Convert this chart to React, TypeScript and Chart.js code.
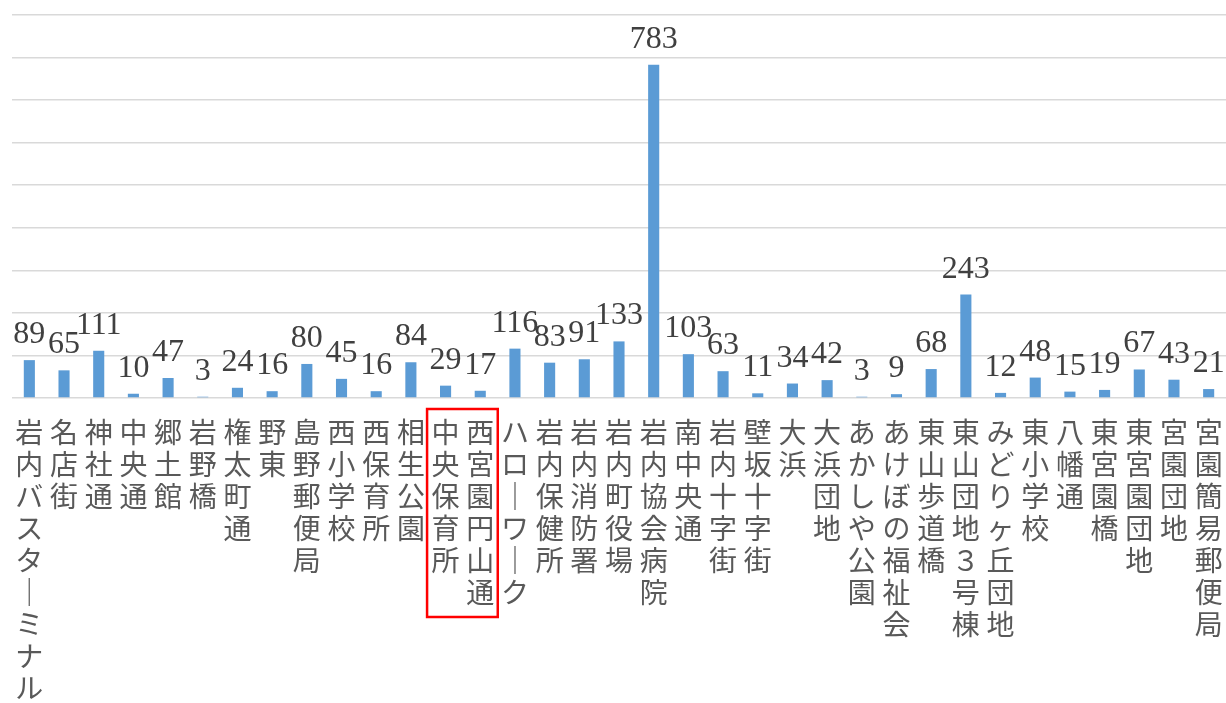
import React, { useEffect, useRef } from "react";
import { Chart, registerables } from "chart.js";

Chart.register(...registerables);

const categories: string[] = [
  "岩内バスターミナル", "名店街", "神社通", "中央通", "郷土館", "岩野橋", "権太町通", "野東",
  "島野郵便局", "西小学校", "西保育所", "相生公園", "中央保育所", "西宮園円山通", "ハローワーク",
  "岩内保健所", "岩内消防署", "岩内町役場", "岩内協会病院", "南中央通", "岩内十字街", "壁坂十字街",
  "大浜", "大浜団地", "あかしや公園", "あけぼの福祉会", "東山歩道橋", "東山団地３号棟",
  "みどりヶ丘団地", "東小学校", "八幡通", "東宮園橋", "東宮園団地", "宮園団地", "宮園簡易郵便局",
];

const values: number[] = [
  89, 65, 111, 10, 47, 3, 24, 16, 80, 45, 16, 84, 29, 17, 116, 83, 91, 133, 783, 103, 63, 11,
  34, 42, 3, 9, 68, 243, 12, 48, 15, 19, 67, 43, 21,
];

const highlighted: number[] = [12, 13];

const yMax = 900;
const yStep = 100;

// vertical typesetting: each character on its own line, long vowel mark drawn upright
const toVertical = (s: string): string[] =>
  Array.from(s).map((c) => (c === "ー" ? "｜" : c));

const valueLabelPlugin = {
  id: "valueLabels",
  afterDatasetsDraw(chart: any) {
    const ctx = chart.ctx;
    const meta = chart.getDatasetMeta(0);
    ctx.save();
    ctx.font = '32px "Liberation Serif"';
    ctx.fillStyle = "#404040";
    ctx.textAlign = "center";
    ctx.textBaseline = "alphabetic";
    meta.data.forEach((bar: any, i: number) => {
      ctx.fillText(String(values[i]), bar.x, bar.y - 17);
    });
    ctx.restore();
  },
};

const highlightBoxPlugin = {
  id: "highlightBox",
  afterDraw(chart: any) {
    const ctx = chart.ctx;
    const xs = chart.scales.x;
    const left = xs.getPixelForValue(highlighted[0]) - 18.5;
    const right = xs.getPixelForValue(highlighted[highlighted.length - 1]) + 17.5;
    const top = chart.chartArea.bottom + 11;
    const bottom = chart.chartArea.bottom + 219;
    ctx.save();
    ctx.strokeStyle = "#FF0000";
    ctx.lineWidth = 2.5;
    ctx.strokeRect(left, top, right - left, bottom - top);
    ctx.restore();
  },
};

export default function App() {
  const canvasRef = useRef<HTMLCanvasElement | null>(null);

  useEffect(() => {
    if (!canvasRef.current) return;
    const chart = new Chart(canvasRef.current, {
      type: "bar",
      data: {
        labels: categories.map(toVertical),
        datasets: [
          {
            data: values,
            backgroundColor: "#5B9BD5",
            borderWidth: 0,
            categoryPercentage: 1,
            barPercentage: 0.32,
          },
        ],
      },
      options: {
        animation: false,
        responsive: true,
        maintainAspectRatio: false,
        layout: { padding: { top: 15, left: 12, right: 0, bottom: 0 } },
        plugins: {
          legend: { display: false },
          tooltip: { enabled: false },
          title: { display: false },
        },
        scales: {
          x: {
            grid: {
              display: true,
              drawOnChartArea: false,
              drawTicks: true,
              tickLength: 18,
              color: "rgba(0,0,0,0)",
            },
            border: { display: false },
            ticks: {
              autoSkip: false,
              maxRotation: 0,
              minRotation: 0,
              padding: 0,
              color: "#595959",
              font: { family: '"Noto Sans CJK JP"', size: 28, lineHeight: 1.143 },
            },
            afterFit: (scale: any) => {
              scale.height = 305;
            },
          },
          y: {
            min: 0,
            max: yMax,
            ticks: { display: false, stepSize: yStep },
            grid: { color: "#D9D9D9", lineWidth: 1.5, drawTicks: false },
            border: { display: false },
            afterFit: (scale: any) => {
              scale.width = 0;
            },
          },
        },
      },
      plugins: [valueLabelPlugin, highlightBoxPlugin],
    });
    return () => chart.destroy();
  }, []);

  return (
    <div style={{ position: "fixed", left: 0, top: 0, width: 1226, height: 703, background: "#fff" }}>
      <canvas ref={canvasRef} />
    </div>
  );
}
